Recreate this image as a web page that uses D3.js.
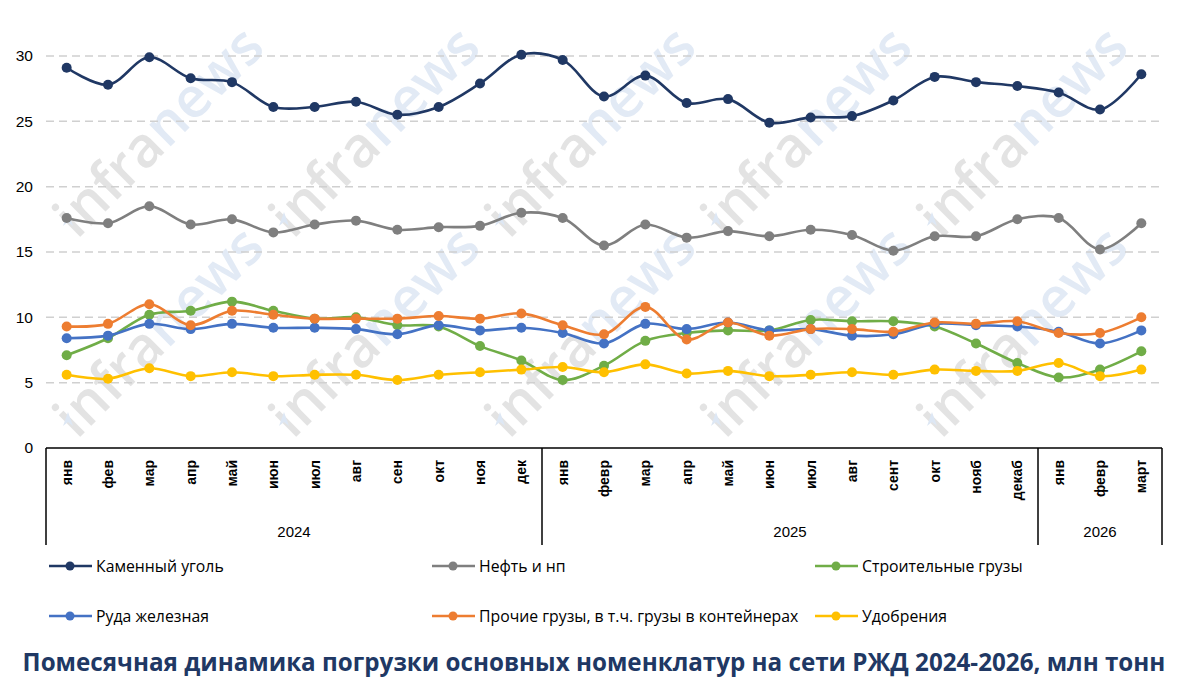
<!DOCTYPE html>
<html>
<head>
<meta charset="utf-8">
<script src="https://cdn.jsdelivr.net/npm/d3@7"></script>
<style>
  body { margin: 0; background: #fff; }
  svg { display: block; font-family: "Liberation Sans", Arial, sans-serif; }
</style>
</head>
<body>
<div id="chart"></div>
<script>
// months on the x axis, grouped by year
const months = ["янв","фев","мар","апр","май","июн","июл","авг","сен","окт","ноя","дек",
  "янв","февр","мар","апр","май","июн","июл","авг","сент","окт","нояб","декаб",
  "янв","февр","март"];
const years = [
  { label: "2024", count: 12 },
  { label: "2025", count: 12 },
  { label: "2026", count: 3 }
];
const yTicks = [0, 5, 10, 15, 20, 25, 30];

const coal = [29.1,27.8,29.9,28.3,28.0,26.1,26.1,26.5,25.5,26.1,27.9,30.1,
  29.7,26.9,28.5,26.4,26.7,24.9,25.3,25.4,26.6,28.4,28.0,27.7,27.2,25.9,28.6];
const oil = [17.6,17.2,18.5,17.1,17.5,16.5,17.1,17.4,16.7,16.9,17.0,18.0,
  17.6,15.5,17.1,16.1,16.6,16.2,16.7,16.3,15.1,16.2,16.2,17.5,17.6,15.2,17.2];
const construction = [7.1,8.4,10.2,10.5,11.2,10.5,9.9,10.0,9.4,9.3,7.8,6.7,
  5.2,6.3,8.2,8.8,9.0,9.0,9.8,9.7,9.7,9.3,8.0,6.5,5.4,6.0,7.4];
const ore = [8.4,8.6,9.5,9.1,9.5,9.2,9.2,9.1,8.7,9.4,9.0,9.2,
  8.8,8.0,9.5,9.1,9.6,9.0,9.1,8.6,8.7,9.5,9.4,9.3,8.9,8.0,9.0];
const other = [9.3,9.5,11.0,9.4,10.5,10.2,9.9,9.9,9.9,10.1,9.9,10.3,
  9.4,8.7,10.8,8.3,9.6,8.6,9.1,9.1,8.9,9.6,9.5,9.7,8.8,8.8,10.0];
const fertilizer = [5.6,5.3,6.1,5.5,5.8,5.5,5.6,5.6,5.2,5.6,5.8,6.0,
  6.2,5.8,6.4,5.7,5.9,5.5,5.6,5.8,5.6,6.0,5.9,5.9,6.5,5.5,6.0];

const seriesNames = ["Каменный уголь","Нефть и нп","Строительные грузы",
  "Руда железная","Прочие грузы, в т.ч. грузы в контейнерах","Удобрения"];
const seriesValues = [coal, oil, construction, ore, other, fertilizer];
const seriesColors = ["#203864","#7f7f7f","#70ad47","#4472c4","#ed7d31","#ffc000"];

const title = "Помесячная динамика погрузки основных номенклатур на сети РЖД 2024-2026, млн тонн";

const width = 1187, height = 692;
const plot = { left: 46, right: 1162, top: 56, bottom: 448 };

const svg = d3.select("#chart").append("svg").attr("width", width).attr("height", height);

const x = d3.scaleBand().domain(d3.range(months.length)).range([plot.left, plot.right]);
const y = d3.scaleLinear().domain([0, 30]).range([plot.bottom, plot.top]);
const cx = i => x(i) + x.bandwidth() / 2;

// watermark
const wm = svg.append("g").attr("font-family", "'Open Sans', sans-serif")
  .attr("font-size", 56).attr("font-weight", 600);
[0, 1].forEach(r => {
  d3.range(5).forEach(c => {
    const px = 77 + c * 216, py = 240 + r * 200;
    const t = wm.append("text").attr("transform", `translate(${px},${py}) rotate(-45)`);
    t.append("tspan").attr("fill", "#e3e3e3").text("infra");
    t.append("tspan").attr("fill", "#e2eaf5").text("news");
    wm.append("path")
      .attr("d", `M${px - 14},${py - 14} l5,-14 l5,14 l-5,-4 z`)
      .attr("fill", "#dde7f4");
  });
});

// gridlines
svg.append("g").selectAll("line").data(yTicks.filter(d => d > 0)).join("line")
  .attr("x1", plot.left).attr("x2", plot.right)
  .attr("y1", d => y(d)).attr("y2", d => y(d))
  .attr("stroke", "#d0d0d0").attr("stroke-width", 1.5).attr("stroke-dasharray", "8,5");

// y labels
svg.append("g").selectAll("text").data(yTicks).join("text")
  .attr("x", 33).attr("y", d => y(d)).attr("dy", "0.35em")
  .attr("text-anchor", "end").attr("font-size", 15.5).attr("fill", "#000")
  .text(d => d);

// x axis: baseline, month labels, year dividers
svg.append("line").attr("x1", plot.left).attr("x2", plot.right)
  .attr("y1", plot.bottom).attr("y2", plot.bottom).attr("stroke", "#000").attr("stroke-width", 1.5);

svg.append("g").selectAll("text").data(months).join("text")
  .attr("transform", (d, i) => `translate(${cx(i) + 5},${plot.bottom + 12}) rotate(-90)`)
  .attr("text-anchor", "end").attr("font-size", 14).attr("font-weight", "bold")
  .text(d => d);

let start = 0;
const bounds = [0];
years.forEach(yr => { start += yr.count; bounds.push(start); });
svg.append("g").selectAll("line").data(bounds).join("line")
  .attr("x1", b => plot.left + b * x.step()).attr("x2", b => plot.left + b * x.step())
  .attr("y1", plot.bottom).attr("y2", 545).attr("stroke", "#000").attr("stroke-width", 1.5);
svg.append("g").selectAll("text").data(years).join("text")
  .attr("x", (d, i) => plot.left + (bounds[i] + d.count / 2) * x.step())
  .attr("y", 537).attr("text-anchor", "middle").attr("font-size", 15)
  .text(d => d.label);

// series
const line = d3.line().x((d, i) => cx(i)).y(d => y(d)).curve(d3.curveCatmullRom.alpha(0.5));
seriesValues.forEach((vals, s) => {
  const g = svg.append("g");
  g.append("path").datum(vals).attr("fill", "none")
    .attr("stroke", seriesColors[s]).attr("stroke-width", 2.6).attr("d", line);
  g.selectAll("circle").data(vals).join("circle")
    .attr("cx", (d, i) => cx(i)).attr("cy", d => y(d)).attr("r", 5)
    .attr("fill", seriesColors[s]);
});

// legend
const legendCols = [49, 432, 815];
const legendRows = [566, 616];
seriesNames.forEach((name, i) => {
  const lx = legendCols[i % 3], ly = legendRows[Math.floor(i / 3)];
  const g = svg.append("g");
  g.append("line").attr("x1", lx).attr("x2", lx + 43).attr("y1", ly).attr("y2", ly)
    .attr("stroke", seriesColors[i]).attr("stroke-width", 2.6);
  g.append("circle").attr("cx", lx + 21).attr("cy", ly).attr("r", 4.5).attr("fill", seriesColors[i]);
  g.append("text").attr("x", lx + 47).attr("y", ly).attr("dy", "0.35em")
    .attr("font-family", "'Open Sans', sans-serif").attr("font-size", 15.8).text(name);
});

// title
svg.append("text").attr("x", 594).attr("y", 671).attr("text-anchor", "middle")
  .attr("font-family", "'Open Sans', sans-serif").attr("font-weight", "bold")
  .attr("font-size", 24.2).attr("fill", "#203864").text(title);
</script>
</body>
</html>
